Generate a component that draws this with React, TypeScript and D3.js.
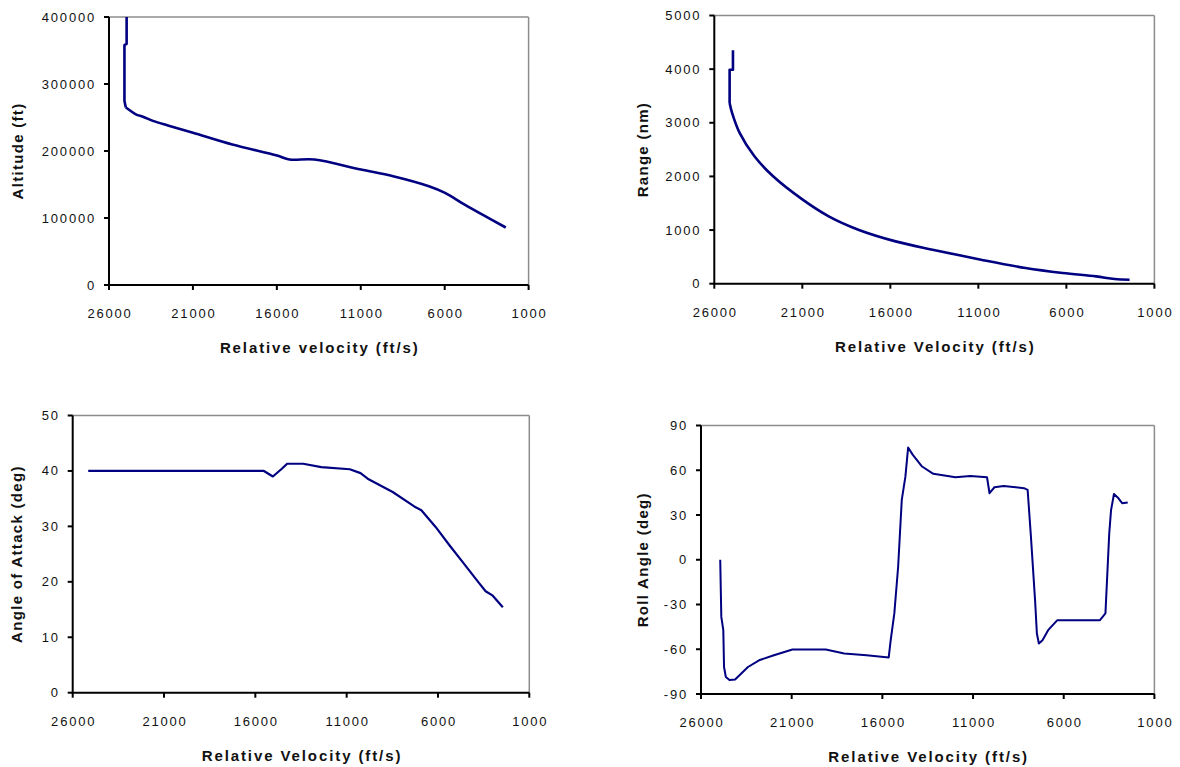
import React from "react";
import * as d3 from "d3";

// x axis is shared: relative velocity, descending left to right
const velocityTicks = [26000, 21000, 16000, 11000, 6000, 1000];

// altitude (ft) vs relative velocity (ft/s)
const altitudeData: [number, number][] = [
  [24950, 400000], [24950, 360000], [25080, 358000], [25080, 275000],
  [25000, 265000], [24830, 262000], [24400, 254700], [23980, 251200],
  [23340, 244600], [22490, 238200], [21000, 227300], [18650, 209700],
  [15990, 193300], [15250, 187300], [13760, 187300], [10990, 172300],
  [9070, 162300], [6940, 147300], [5980, 137400], [4810, 119900],
  [3750, 104900], [2360, 85800],
];
const altitudeTicks = [0, 100000, 200000, 300000, 400000];

// range (nm) vs relative velocity
const rangeData: [number, number][] = [
  [24940, 4350], [24940, 3990], [25130, 3990], [25130, 3370],
  [24990, 3185], [24560, 2811], [23720, 2375], [22660, 2002],
  [20980, 1567], [19500, 1256], [17820, 1007], [15700, 789],
  [13600, 634], [10850, 448], [8320, 293], [6210, 200],
  [4310, 136], [3260, 88], [2410, 75],
];
const rangeTicks = [0, 1000, 2000, 3000, 4000, 5000];

// angle of attack (deg)
const alphaData: [number, number][] = [
  [25150, 40], [15530, 40], [15040, 39.0], [14550, 40.4], [14260, 41.3],
  [13380, 41.3], [12390, 40.7], [10830, 40.3], [10240, 39.6], [9850, 38.6],
  [8480, 36.2], [7300, 33.6], [6910, 32.9], [6130, 29.9], [5350, 26.5],
  [4560, 23.2], [3780, 19.9], [3390, 18.3], [3000, 17.5], [2450, 15.4],
];
const alphaTicks = [0, 10, 20, 30, 40, 50];

// roll angle (deg)
const rollData: [number, number][] = [
  [24940, 0], [24880, -38.3], [24770, -47.2], [24730, -71.9], [24630, -78.6],
  [24430, -80.6], [24120, -80.3], [23410, -71.9], [22800, -67.4], [21980, -64.0],
  [20960, -60.2], [19120, -60.2], [18100, -62.9], [16870, -64.0], [15650, -65.5],
  [15540, -53.9], [15340, -36.0], [15130, -4.7], [14930, 40.1], [14730, 55.7],
  [14580, 75.2], [14320, 70.3], [13810, 62.5], [13190, 57.6], [11970, 55.3],
  [11150, 56.2], [10230, 55.3], [10090, 44.6], [9820, 48.6], [9310, 49.5],
  [8190, 48.0], [7990, 46.8], [7820, 17.7], [7580, -27.1], [7480, -49.4],
  [7370, -56.1], [7170, -53.9], [6860, -47.2], [6350, -40.5], [4000, -40.5],
  [3700, -36.0], [3490, 17.7], [3390, 33.3], [3230, 44.1], [2980, 41.2],
  [2780, 37.9], [2470, 38.3],
];
const rollTicks = [-90, -60, -30, 0, 30, 60, 90];

const FONT = "Arial, 'Liberation Sans', sans-serif";
const NAVY = "#000080";

type PanelProps = {
  left: number; right: number; top: number; bottom: number;
  data: [number, number][];
  yTicks: number[];
  xTitle: string; yTitle: string;
  yTitleX: number;
  strokeWidth: number;
  smoothFrom?: number; // index from which the trace is drawn as a smooth curve
};

function Panel(p: PanelProps) {
  const x = d3.scaleLinear().domain([26000, 1000]).range([p.left, p.right]);
  const y = d3
    .scaleLinear()
    .domain([p.yTicks[0], p.yTicks[p.yTicks.length - 1]])
    .range([p.bottom, p.top]);
  const straight = d3
    .line<[number, number]>()
    .x((d) => x(d[0]))
    .y((d) => y(d[1]));
  const smooth = d3
    .line<[number, number]>()
    .x((d) => x(d[0]))
    .y((d) => y(d[1]))
    .curve(d3.curveCatmullRom.alpha(0.5));

  const k = p.smoothFrom ?? p.data.length;
  const head = p.data.slice(0, k + 1);
  const tail = p.data.slice(k);

  const midX = (p.left + p.right) / 2;
  const midY = (p.top + p.bottom) / 2;

  return (
    <g>
      {/* frame: grey top/right, black axes */}
      <line x1={p.left} x2={p.right} y1={p.top} y2={p.top} stroke="#8c8c8c" strokeWidth={1.5} />
      <line x1={p.right} x2={p.right} y1={p.top} y2={p.bottom} stroke="#8c8c8c" strokeWidth={1.5} />
      <line x1={p.left} x2={p.left} y1={p.top} y2={p.bottom + 1} stroke="#000" strokeWidth={2} />
      <line x1={p.left - 1} x2={p.right} y1={p.bottom} y2={p.bottom} stroke="#000" strokeWidth={2} />

      {p.yTicks.map((t) => (
        <g key={"y" + t}>
          <line x1={p.left - 5} x2={p.left} y1={y(t)} y2={y(t)} stroke="#000" strokeWidth={2} />
          <text
            x={p.left - 13}
            y={y(t) + 4.5}
            textAnchor="end"
            fontSize={13}
            letterSpacing={1.8}
            fontFamily={FONT}
            fill="#111"
          >
            {String(t)}
          </text>
        </g>
      ))}

      {velocityTicks.map((t) => (
        <g key={"x" + t}>
          <line x1={x(t)} x2={x(t)} y1={p.bottom} y2={p.bottom + 5} stroke="#000" strokeWidth={2} />
          <text
            x={x(t) + 1}
            y={p.bottom + 33}
            textAnchor="middle"
            fontSize={13}
            letterSpacing={1.8}
            fontFamily={FONT}
            fill="#111"
          >
            {String(t)}
          </text>
        </g>
      ))}

      <path d={straight(head) ?? ""} fill="none" stroke={NAVY} strokeWidth={p.strokeWidth} strokeLinejoin="round" />
      {tail.length > 1 && (
        <path d={smooth(tail) ?? ""} fill="none" stroke={NAVY} strokeWidth={p.strokeWidth} strokeLinejoin="round" />
      )}

      <text
        x={midX + 1}
        y={p.bottom + 68}
        textAnchor="middle"
        fontSize={15}
        fontWeight="bold"
        letterSpacing={1.9}
        fontFamily={FONT}
        fill="#111"
      >
        {p.xTitle}
      </text>
      <text
        transform={`translate(${p.yTitleX + 5},${midY}) rotate(-90)`}
        textAnchor="middle"
        fontSize={15}
        fontWeight="bold"
        letterSpacing={1.3}
        fontFamily={FONT}
        fill="#111"
      >
        {p.yTitle}
      </text>
    </g>
  );
}

export default function App() {
  return (
    <svg
      width={1180}
      height={767}
      style={{ position: "absolute", left: 0, top: 0, background: "#fff" }}
    >
      <Panel
        left={109} right={528.6} top={17} bottom={285}
        data={altitudeData} yTicks={altitudeTicks}
        xTitle="Relative velocity (ft/s)" yTitle="Altitude (ft)"
        yTitleX={18} strokeWidth={2.6} smoothFrom={4}
      />
      <Panel
        left={714.3} right={1154.4} top={15.5} bottom={283.7}
        data={rangeData} yTicks={rangeTicks}
        xTitle="Relative Velocity (ft/s)" yTitle="Range (nm)"
        yTitleX={642.5} strokeWidth={2.6} smoothFrom={3}
      />
      <Panel
        left={72.7} right={529.3} top={415.5} bottom={692.7}
        data={alphaData} yTicks={alphaTicks}
        xTitle="Relative Velocity (ft/s)" yTitle="Angle of  Attack (deg)"
        yTitleX={17} strokeWidth={2.2}
      />
      <Panel
        left={701} right={1154.4} top={425.5} bottom={694}
        data={rollData} yTicks={rollTicks}
        xTitle="Relative Velocity (ft/s)" yTitle="Roll Angle (deg)"
        yTitleX={642.5} strokeWidth={2}
      />
    </svg>
  );
}
